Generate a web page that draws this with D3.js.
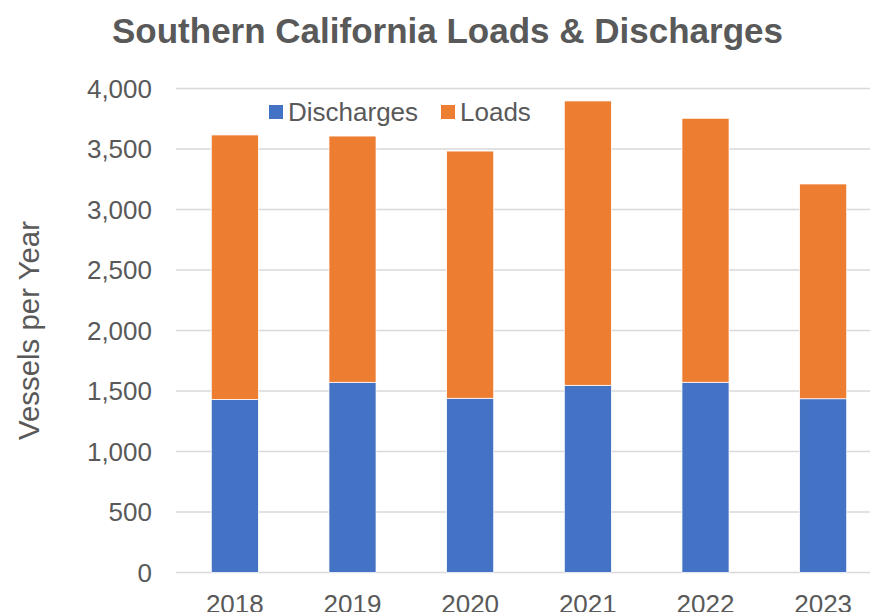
<!DOCTYPE html>
<html>
<head>
<meta charset="utf-8">
<script src="https://cdn.jsdelivr.net/npm/d3@7"></script>
<style>
  html, body { margin: 0; padding: 0; background: #fff; }
  svg { display: block; font-family: "Liberation Sans", Arial, sans-serif; }
</style>
</head>
<body>
<svg id="chart" width="870" height="612"></svg>
<script>
const years = ["2018", "2019", "2020", "2021", "2022", "2023"];
const discharges = [1431, 1572, 1440, 1547, 1572, 1436];
const loads = [2185, 2035, 2043, 2350, 2182, 1775];
const yTicks = [0, 500, 1000, 1500, 2000, 2500, 3000, 3500, 4000];
const seriesNames = ["Discharges", "Loads"];
const colors = ["#4472C4", "#ED7D31"];

const svg = d3.select("#chart");
const textColor = "#595959";

const x = d3.scaleBand()
  .domain(years)
  .range([176, 882])
  .paddingInner(0.6)
  .paddingOuter(0.3);

const y = d3.scaleLinear()
  .domain([0, 4000])
  .range([572.5, 88.5]);

// gridlines
svg.append("g")
  .selectAll("line")
  .data(yTicks)
  .enter()
  .append("line")
  .attr("x1", 176)
  .attr("x2", 870)
  .attr("y1", d => y(d))
  .attr("y2", d => y(d))
  .attr("stroke", "#D9D9D9")
  .attr("stroke-width", 1.5);

// stacked bars
const rows = years.map((yr, i) => ({ year: yr, Discharges: discharges[i], Loads: loads[i] }));
const stacked = d3.stack().keys(seriesNames)(rows);

svg.append("g")
  .selectAll("g")
  .data(stacked)
  .enter()
  .append("g")
  .attr("fill", (d, i) => colors[i])
  .selectAll("rect")
  .data(d => d)
  .enter()
  .append("rect")
  .attr("x", d => x(d.data.year))
  .attr("width", x.bandwidth())
  .attr("y", d => y(d[1]))
  .attr("height", d => y(d[0]) - y(d[1]))
  .attr("stroke", "#fff")
  .attr("stroke-width", 0.75);

// y tick labels
svg.append("g")
  .selectAll("text")
  .data(yTicks)
  .enter()
  .append("text")
  .attr("x", 152)
  .attr("y", d => y(d))
  .attr("dy", "0.36em")
  .attr("text-anchor", "end")
  .attr("font-size", 26)
  .attr("fill", textColor)
  .text(d3.format(","));

// x tick labels (bottom is clipped in the original too)
svg.append("g")
  .selectAll("text")
  .data(years)
  .enter()
  .append("text")
  .attr("x", d => x(d) + x.bandwidth() / 2)
  .attr("y", 613)
  .attr("text-anchor", "middle")
  .attr("font-size", 26)
  .attr("fill", textColor)
  .text(d => d);

// axis title
svg.append("text")
  .attr("transform", "translate(38.5,330.5) rotate(-90)")
  .attr("text-anchor", "middle")
  .attr("font-size", 29.4)
  .attr("fill", textColor)
  .text("Vessels per Year");

// chart title
svg.append("text")
  .attr("x", 447.5)
  .attr("y", 43)
  .attr("text-anchor", "middle")
  .attr("font-size", 35)
  .attr("font-weight", "bold")
  .attr("fill", textColor)
  .text("Southern California Loads & Discharges");

// legend
const legendX = [269, 441];
const legend = svg.append("g")
  .selectAll("g")
  .data(seriesNames)
  .enter()
  .append("g")
  .attr("transform", (d, i) => `translate(${legendX[i]},105)`);

legend.append("rect")
  .attr("width", 14)
  .attr("height", 14)
  .attr("fill", (d, i) => colors[i]);

legend.append("text")
  .attr("x", 19)
  .attr("y", 16)
  .attr("font-size", 26)
  .attr("fill", textColor)
  .text(d => d);
</script>
</body>
</html>
